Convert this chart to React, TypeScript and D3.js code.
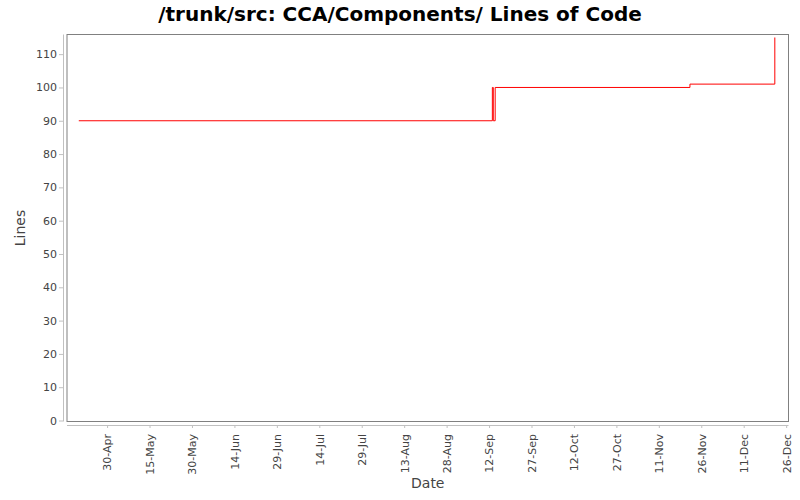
import * as React from 'react';
import { useRef, useEffect } from 'react';
import * as d3 from 'd3';

// step series (year is not shown, 2007 assumed)
const dates = ['2007-04-20', '2007-09-13T04:00', '2007-09-13T12:00', '2007-09-14T04:00', '2007-11-22', '2007-12-22'];
const lines = [90, 100, 90, 100, 101, 115];

const tickDates = [
  '2007-04-30', '2007-05-15', '2007-05-30', '2007-06-14', '2007-06-29', '2007-07-14',
  '2007-07-29', '2007-08-13', '2007-08-28', '2007-09-12', '2007-09-27', '2007-10-12',
  '2007-10-27', '2007-11-11', '2007-11-26', '2007-12-11', '2007-12-26',
];
const yTicks = [0, 10, 20, 30, 40, 50, 60, 70, 80, 90, 100, 110];

export default function App() {
  const svgRef = useRef<SVGSVGElement>(null);
  const width = 800;
  const height = 500;
  const plot = { left: 67, right: 788.5, top: 34.5, bottom: 421.5 };

  useEffect(() => {
    if (!svgRef.current) return;
    const svg = d3.select(svgRef.current);
    svg.selectAll('*').remove();

    const parse = (s: string) => new Date(s);
    const xScale = d3.scaleTime()
      .domain([parse('2007-04-15T20:00'), parse('2007-12-26T20:00')])
      .range([plot.left, plot.right]);
    const yScale = d3.scaleLinear()
      .domain([-0.3, 115.9])
      .range([plot.bottom, plot.top]);

    const font = 'DejaVu Sans, sans-serif';

    svg.append('rect')
      .attr('width', width).attr('height', height).attr('fill', '#ffffff');

    svg.append('text')
      .attr('x', 400).attr('y', 21)
      .attr('text-anchor', 'middle')
      .attr('font-family', font).attr('font-weight', 'bold').attr('font-size', 20)
      .attr('fill', '#000')
      .text('/trunk/src: CCA/Components/ Lines of Code');

    // plot outline
    svg.append('rect')
      .attr('x', plot.left).attr('y', plot.top)
      .attr('width', plot.right - plot.left).attr('height', plot.bottom - plot.top)
      .attr('fill', '#fff').attr('stroke', '#808080').attr('stroke-width', 1);

    // y axis
    const yAxis = svg.append('g')
      .attr('transform', `translate(63,0)`)
      .call(d3.axisLeft(yScale).tickValues(yTicks).tickSize(4).tickPadding(2));
    yAxis.select('.domain').attr('stroke', '#c0c0c0').attr('d', `M0.5,${plot.top}V${plot.bottom}`);
    yAxis.selectAll('.tick line').attr('stroke', '#c0c0c0');
    yAxis.selectAll('.tick text')
      .attr('font-family', font).attr('font-size', 11).attr('fill', '#444');

    // x axis
    const xAxis = svg.append('g')
      .attr('transform', `translate(0,425)`)
      .call(d3.axisBottom(xScale).tickValues(tickDates.map(parse)).tickSize(3)
        .tickFormat((d) => d3.timeFormat('%d-%b')(d as Date).replace(/^0/, '')));
    xAxis.select('.domain').attr('stroke', '#c0c0c0').attr('d', `M${plot.left},0.5H${plot.right}`);
    xAxis.selectAll('.tick line').attr('stroke', '#c0c0c0');
    xAxis.selectAll('.tick text')
      .attr('font-family', font).attr('font-size', 11).attr('fill', '#444')
      .attr('text-anchor', 'end')
      .attr('transform', 'rotate(-90)')
      .attr('x', -9).attr('y', 0).attr('dy', '0.35em');

    svg.append('text')
      .attr('x', (plot.left + plot.right) / 2).attr('y', 488)
      .attr('text-anchor', 'middle')
      .attr('font-family', font).attr('font-size', 14).attr('fill', '#444')
      .text('Date');

    svg.append('text')
      .attr('transform', `translate(25,${(plot.top + plot.bottom) / 2}) rotate(-90)`)
      .attr('text-anchor', 'middle')
      .attr('font-family', font).attr('font-size', 14).attr('fill', '#444')
      .text('Lines');

    const data = dates.map((d, i) => ({ x: parse(d), y: lines[i] }));
    const line = d3.line<{ x: Date; y: number }>()
      .x((d) => xScale(d.x))
      .y((d) => yScale(d.y))
      .curve(d3.curveStepAfter);

    svg.append('path')
      .datum(data)
      .attr('fill', 'none')
      .attr('stroke', '#ff0000')
      .attr('stroke-width', 1)
      .attr('d', line);
  }, []);

  return (
    <svg ref={svgRef} width={width} height={height} style={{ display: 'block', position: 'absolute', left: 0, top: 0 }} />
  );
}
